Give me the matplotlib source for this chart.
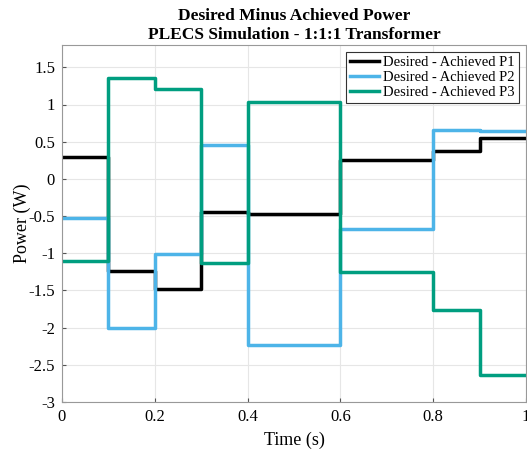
import numpy as np
import matplotlib.pyplot as plt

plt.rcParams['font.family'] = ['Liberation Serif', 'DejaVu Serif']

# segment start times (s), each segment lasts 0.1 s
t = [0.0, 0.1, 0.2, 0.3, 0.4, 0.5, 0.6, 0.7, 0.8, 0.9, 1.0]

# desired minus achieved power per segment (W)
p1 = [0.30, -1.24, -1.48, -0.45, -0.47, -0.47, 0.26, 0.26, 0.37, 0.55]
p2 = [-0.52, -2.01, -1.01, 0.46, -2.23, -2.23, -0.68, -0.68, 0.66, 0.64]
p3 = [-1.10, 1.36, 1.21, -1.13, 1.03, 1.03, -1.25, -1.25, -1.76, -2.64]

labels = ['Desired - Achieved P1', 'Desired - Achieved P2', 'Desired - Achieved P3']
colors = ['#000000', '#4DB4E8', '#009E80']

fig = plt.figure(figsize=(5.27, 4.5), dpi=100)
ax = fig.add_axes([62 / 527, 48 / 450, 464 / 527, 357 / 450])

for p, lab, c in zip([p1, p2, p3], labels, colors):
    ax.step(t, p + [p[-1]], where='post', color=c, lw=2.5, label=lab)

ax.set_xlim(0, 1)
ax.set_ylim(-3, 1.8)
ax.set_xticks([0, 0.2, 0.4, 0.6, 0.8, 1])
ax.set_xticklabels(['0', '0.2', '0.4', '0.6', '0.8', '1'])
yt = [-3, -2.5, -2, -1.5, -1, -0.5, 0, 0.5, 1, 1.5]
ax.set_yticks(yt)
ax.set_yticklabels(['%g' % v for v in yt])
ax.tick_params(direction='in', length=3, labelsize=12, color='#555555', pad=5)
ax.grid(True, color='#e6e6e6', lw=0.8)
for s in ax.spines.values():
    s.set_color('#999999')
    s.set_linewidth(0.8)

ax.set_xlabel('Time (s)', fontsize=13, labelpad=5)
ax.set_ylabel('Power (W)', fontsize=13, labelpad=-2)
ax.set_title('Desired Minus Achieved Power\nPLECS Simulation - 1:1:1 Transformer',
             fontsize=12.5, fontweight='bold', linespacing=1.3, pad=4)

leg = ax.legend(loc='upper right', fontsize=10.5, fancybox=False, framealpha=1,
                edgecolor='#333333', handlelength=2.0, handletextpad=0.3,
                borderpad=0.25, labelspacing=0.12, borderaxespad=0.5)
leg.get_frame().set_linewidth(0.8)

fig.savefig('out.png', dpi=100)
